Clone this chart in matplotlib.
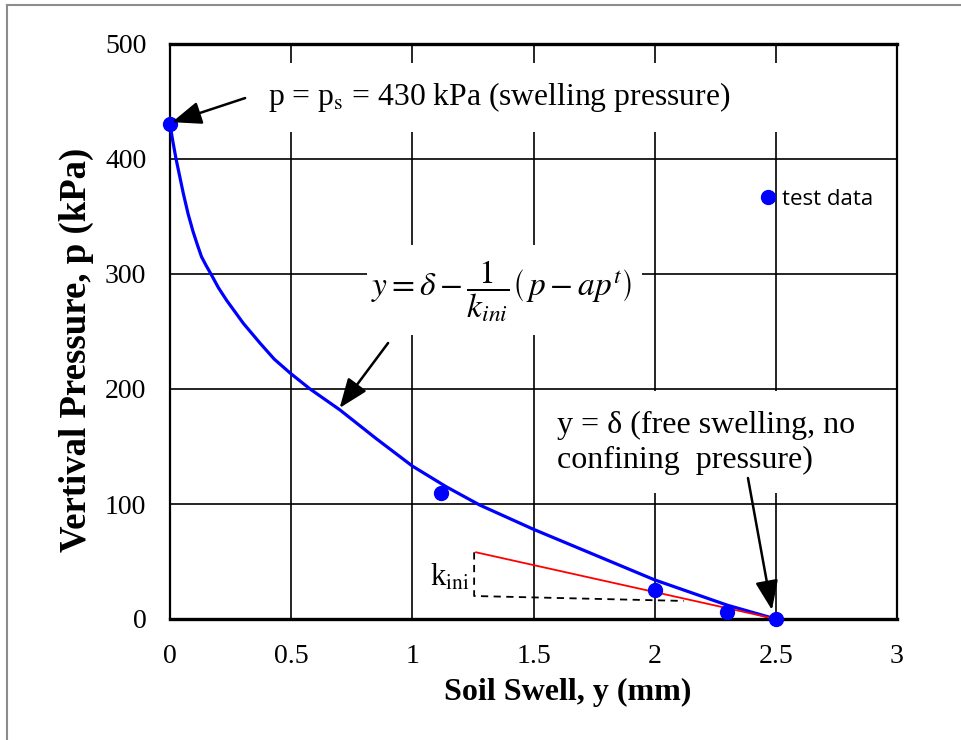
import matplotlib
matplotlib.use("Agg")
import matplotlib.pyplot as plt
from matplotlib.patches import Rectangle

plt.rcParams['font.family'] = ['Liberation Serif', 'DejaVu Serif']
plt.rcParams['mathtext.fontset'] = 'stix'

# test data (soil swell in mm, vertical pressure in kPa)
test_swell = [0.0, 1.117, 2.0, 2.30, 2.5]
test_pressure = [430, 110, 25, 6.5, 0]

# fitted curve
curve_swell = [0.0, 0.012, 0.025, 0.04, 0.055, 0.075, 0.095, 0.112, 0.13, 0.15, 0.169,
               0.20, 0.234, 0.303, 0.371, 0.43, 0.495, 0.578, 0.70, 0.85, 1.0, 1.14,
               1.279, 1.5, 1.75, 2.0, 2.15, 2.3, 2.4, 2.5]
curve_pressure = [430, 415, 400, 385, 370, 352, 337, 326, 315, 307, 300,
                  288, 277, 257, 240, 226, 214, 200, 182, 157, 133, 115,
                  99, 78, 56, 34, 23, 12, 6, 0]

# initial stiffness line and slope triangle
kini_swell = [1.263, 2.5]
kini_pressure = [58, 0]
tri_swell = [1.255, 1.255, 2.12]
tri_pressure = [58, 20, 15.7]

x_ticks = [0, 0.5, 1, 1.5, 2, 2.5, 3]
x_labels = ["0", "0.5", "1", "1.5", "2", "2.5", "3"]
y_ticks = [0, 100, 200, 300, 400, 500]

fig = plt.figure(figsize=(9.62, 7.40), dpi=100)
ax = fig.add_axes([170 / 962, 1 - 619 / 740, 727 / 962, 575 / 740])

ax.set_xlim(0, 3)
ax.set_ylim(0, 500)
ax.set_xticks(x_ticks)
ax.set_xticklabels(x_labels)
ax.set_yticks(y_ticks)
ax.tick_params(length=0, labelsize=20)
ax.tick_params(axis='y', pad=17)
ax.tick_params(axis='x', pad=18)
ax.set_axisbelow(True)
ax.grid(True, color='black', lw=1.2)
for side in ['top', 'bottom']:
    ax.spines[side].set_linewidth(2.4)
for side in ['left', 'right']:
    ax.spines[side].set_linewidth(1.6)

ax.set_xlabel("Soil Swell, y (mm)", fontsize=23, fontweight='bold')
ax.xaxis.set_label_coords(0.547, -0.102)
ax.set_ylabel("Vertival Pressure, p (kPa)", fontsize=26.5, fontweight='bold')
ax.yaxis.set_label_coords(-0.104, 0.468)

# white text boxes hiding the grid
for (x0, y0, w, h) in [(0.334, 423.5, 2.3, 60), (0.813, 247, 1.135, 78),
                       (1.58, 110, 1.29, 88)]:
    ax.add_patch(Rectangle((x0, y0), w, h, facecolor='white', edgecolor='none', zorder=1))

ax.plot(curve_swell, curve_pressure, color='blue', lw=2.3, zorder=3)
ax.plot(kini_swell, kini_pressure, color='red', lw=1.3, zorder=3)
ax.plot(tri_swell, tri_pressure, color='black', lw=1.3, ls=(0, (4, 3)), zorder=3)
ax.plot(test_swell, test_pressure, 'o', color='blue', ms=10, zorder=4,
        label='test data', clip_on=False)

leg = ax.legend(loc='upper left', bbox_to_anchor=(0.8116, 0.7476), frameon=False,
                handlelength=0.7, handletextpad=0.3, borderpad=0, borderaxespad=0,
                prop={'family': 'Open Sans', 'size': 16})

arrow = dict(arrowstyle='-|>,head_length=0.9,head_width=0.35', color='black',
             lw=1.8, mutation_scale=20, shrinkA=0, shrinkB=0)
ax.annotate("", xy=(0.008, 432), xytext=(0.31, 453), arrowprops=arrow, zorder=5)
ax.annotate("", xy=(0.70, 183.5), xytext=(0.90, 240), arrowprops=arrow, zorder=5)
ax.annotate("", xy=(2.484, 7.8), xytext=(2.385, 122.6), arrowprops=arrow, zorder=5)

ax.text(0.405, 454, r"p = p$_{\mathrm{s}}$ = 430 kPa (swelling pressure)", fontsize=22.8,
        ha='left', va='center', zorder=5)
ax.text(0.83, 285, r"$y=\delta-\dfrac{1}{k_{ini}}\left(\,p-ap^{t}\right)$", fontsize=24,
        ha='left', va='center', zorder=5)
ax.text(1.595, 153, "y = \u03b4 (free swelling, no\nconfining  pressure)", fontsize=23,
        ha='left', va='center', linespacing=1.25, zorder=5)
ax.text(1.235, 36, r"k$_{\mathrm{ini}}$", fontsize=22, ha='right', va='center', zorder=5)

# outer frame of the picture
fig.add_artist(plt.Line2D([7 / 962, 1], [1 - 5 / 740, 1 - 5 / 740], color='#8c8c8c', lw=1.5))
fig.add_artist(plt.Line2D([7 / 962, 7 / 962], [0, 1 - 5 / 740], color='#8c8c8c', lw=1.5))

fig.savefig("out.png", dpi=100)
